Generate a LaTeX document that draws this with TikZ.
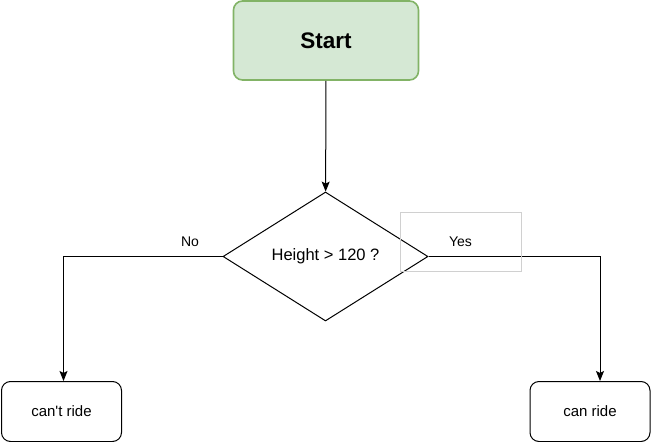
\documentclass[tikz,border=0pt]{standalone}
\usepackage{fontspec}
\setmainfont{Liberation Sans}
\usetikzlibrary{shapes.geometric,arrows.meta}
\definecolor{startfill}{HTML}{D5E8D4}
\definecolor{startline}{HTML}{82B366}
\definecolor{labelline}{HTML}{D0D0D0}

\begin{document}
\begin{tikzpicture}[x=1pt,y=-1pt,
        box/.style={draw,rounded corners=9pt,minimum width=120pt,minimum height=60pt,
            line width=1pt,font=\fontsize{15}{18}\selectfont},
        test/.style={draw,shape=diamond,aspect=1.6,inner sep=0pt,minimum width=205pt,
            minimum height=129pt,line width=1pt,font=\fontsize{16.5}{20}\selectfont},
        arrow/.style={line width=1pt,-{Stealth[length=10pt,width=8pt,inset=2pt]}},
        answer/.style={font=\fontsize{14}{17}\selectfont}]
        \useasboundingbox (0,0) rectangle (651,442);
        % 开始
        \node [box,fill=startfill,draw=startline,line width=1.6pt,minimum width=185pt,
            minimum height=79pt,font=\bfseries\fontsize{22.5}{27}\selectfont] (start) at (326,40.5) {Start};
        % 判断身高
        \node [test] (height) at (325.5,256.5) {Height > 120 ?};
        % 两个结果
        \node [box] (noride) at (61.5,411.5) {can\textquotesingle t ride};
        \node [box] (ride) at (590,411.5) {can ride};

        % 连线
        \draw [arrow] (start) -- (height);
        \draw [arrow] (height.west) -| ([xshift=2pt]noride.north);
        \draw [arrow] (height.east) -| ([xshift=10pt]ride.north);
        % 标注 Yes / No
        \node [answer] (no) at (190,241.5) {No};
        \node [answer,draw=labelline,line width=0.8pt,minimum width=121pt,minimum height=59pt]
            (yes) at (460.5,241.5) {Yes};
    \end{tikzpicture}
\end{document}
